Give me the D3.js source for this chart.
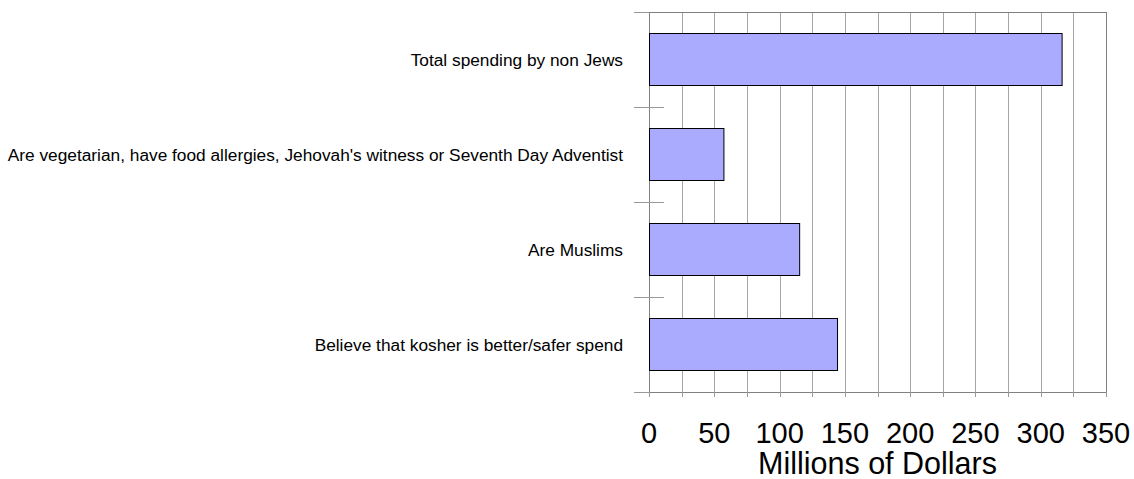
<!DOCTYPE html>
<html>
<head>
<meta charset="utf-8">
<script src="https://cdn.jsdelivr.net/npm/d3@7"></script>
<style>
  body { margin: 0; background: #fff; overflow: hidden; }
  svg { display: block; }
  svg text { font-family: "Liberation Sans", Arial, sans-serif; fill: #000; }
</style>
</head>
<body>
<div id="chart"></div>
<script>
const categories = [
  "Total spending by non Jews",
  "Are vegetarian, have food allergies, Jehovah's witness or Seventh Day Adventist",
  "Are Muslims",
  "Believe that kosher is better/safer spend"
];
const values = [316, 57, 115, 144];
const tickValues = [0, 50, 100, 150, 200, 250, 300, 350];
const axisTitle = "Millions of Dollars";

const width = 1134;
const height = 479;
const plotLeft = 649, plotRight = 1106, plotTop = 12, plotBottom = 392;

const svg = d3.select("#chart")
  .append("svg")
  .attr("width", width)
  .attr("height", height);

const x = d3.scaleLinear().domain([0, 350]).range([plotLeft, plotRight]);
const y = d3.scaleBand()
  .domain(categories)
  .range([plotTop, plotBottom])
  .paddingInner(0.45)
  .paddingOuter(0.225);

// vertical grid lines every 25
const minor = d3.range(25, 350, 25);
svg.append("g")
  .selectAll("line")
  .data(minor)
  .join("line")
  .attr("x1", d => Math.round(x(d)) + 0.5)
  .attr("x2", d => Math.round(x(d)) + 0.5)
  .attr("y1", plotTop)
  .attr("y2", plotBottom)
  .attr("stroke", "#a6a6a6")
  .attr("stroke-width", 1);

// plot frame
svg.append("rect")
  .attr("x", plotLeft + 0.5)
  .attr("y", plotTop + 0.5)
  .attr("width", plotRight - plotLeft)
  .attr("height", plotBottom - plotTop)
  .attr("fill", "none")
  .attr("stroke", "#808080")
  .attr("stroke-width", 1);

// category separator ticks on the left
const bounds = d3.range(categories.length + 1).map(i => plotTop + i * y.step());
svg.append("g")
  .selectAll("line")
  .data(bounds)
  .join("line")
  .attr("x1", 634)
  .attr("x2", (d, i) => (i === 0 || i === categories.length) ? plotLeft : 664)
  .attr("y1", d => Math.round(d) + 0.5)
  .attr("y2", d => Math.round(d) + 0.5)
  .attr("stroke", "#999")
  .attr("stroke-width", 1);

// bottom axis ticks every 25
svg.append("g")
  .selectAll("line")
  .data(d3.range(0, 375, 25))
  .join("line")
  .attr("x1", d => Math.round(x(d)) + 0.5)
  .attr("x2", d => Math.round(x(d)) + 0.5)
  .attr("y1", plotBottom)
  .attr("y2", plotBottom + 5)
  .attr("stroke", "#999")
  .attr("stroke-width", 1);

// bars
svg.append("g")
  .selectAll("rect")
  .data(values)
  .join("rect")
  .attr("x", plotLeft + 0.5)
  .attr("y", (d, i) => Math.round(y(categories[i])) + 0.5)
  .attr("width", d => x(d) - plotLeft)
  .attr("height", Math.round(y.bandwidth()))
  .attr("fill", "#aaaaff")
  .attr("stroke", "#000")
  .attr("stroke-width", 1);

// category labels
svg.append("g")
  .selectAll("text")
  .data(categories)
  .join("text")
  .attr("x", 623)
  .attr("y", d => y(d) + y.bandwidth() / 2)
  .attr("dy", "0.35em")
  .attr("text-anchor", "end")
  .attr("font-size", 17.3)
  .text(d => d);

// tick labels
svg.append("g")
  .selectAll("text")
  .data(tickValues)
  .join("text")
  .attr("x", d => x(d))
  .attr("y", 443)
  .attr("text-anchor", "middle")
  .attr("font-size", 29)
  .text(d => d);

svg.append("text")
  .attr("x", (plotLeft + plotRight) / 2)
  .attr("y", 474)
  .attr("text-anchor", "middle")
  .attr("font-size", 30.5)
  .text(axisTitle);
</script>
</body>
</html>
